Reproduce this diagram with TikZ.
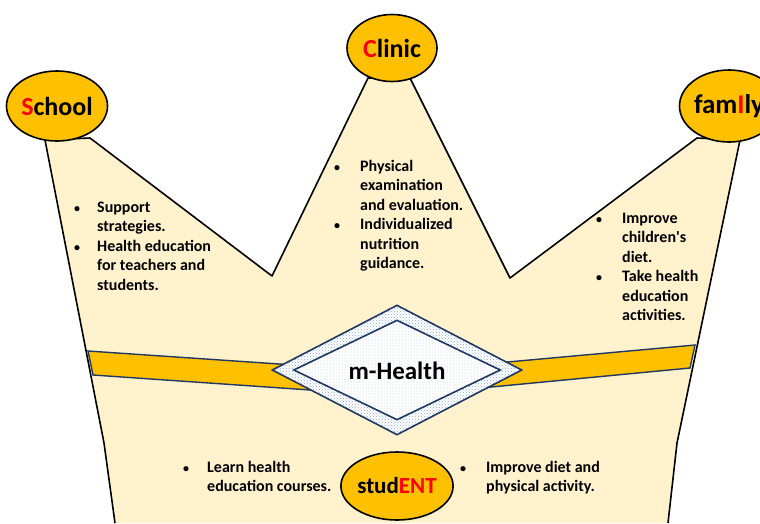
\documentclass[tikz,border=0pt]{standalone}
\usepackage{fontspec}
\setmainfont{Carlito}
\usetikzlibrary{shapes.geometric,patterns}

\definecolor{crownfill}{HTML}{FFF2CC}
\definecolor{gold}{HTML}{FFC000}
\definecolor{navy}{HTML}{1F3864}
\definecolor{dotblue}{HTML}{8FAADC}

\newcommand{\redl}[1]{\textcolor{red}{#1}}
\newcommand{\bul}{{\fontsize{12}{12}\selectfont\textbullet}}

\begin{document}
\begin{tikzpicture}[x=1pt,y=-1pt,
		jewel/.style={ellipse,draw=black,line width=1.6pt,fill=gold,minimum width=90pt,minimum height=70pt,inner sep=0pt,font=\fontsize{26}{28}\selectfont\bfseries},
		notes/.style={anchor=base west,inner sep=0pt,font=\fontsize{16}{19.5}\selectfont\bfseries},
		gem/.style={diamond,draw=navy,line width=1.6pt,inner sep=0pt,preaction={fill=white}}]
	\useasboundingbox (0,0) rectangle (760,523);
	% crown body
	\fill[crownfill] (115,523) -- (104,443) -- (45,140) -- (90,138) -- (272,276) -- (368,78) -- (410,78)
		-- (510,278) -- (697,138) -- (740,140) -- (677,443) -- (668,523) -- cycle;
	\draw[line width=1.6pt,line join=round] (115,523) -- (104,443) -- (45,140) -- (90,138) -- (272,276) -- (368,78)
		-- (410,78) -- (510,278) -- (697,138) -- (740,140) -- (677,443) -- (668,523);
	% band
	\draw[navy,line width=1.4pt,fill=gold] (88,351) -- (397,372) -- (695,345) -- (690,368) -- (397,396) -- (93,375) -- cycle;
	% centre gem
	\node[gem,minimum width=250pt,minimum height=130pt,pattern=crosshatch dots,pattern color=dotblue] (gemout) at (397,370) {};
	\node[gem,minimum width=207pt,minimum height=100pt,pattern=dots,pattern color=dotblue!70] (gemin) at (397,370) {};
	\node[font=\fontsize{25}{27}\selectfont\bfseries] (mhealth) at (397,371) {m-Health};
	% the four jewels
	\node[jewel] (school) at (57,106) {\redl{S}chool};
	\node[jewel,minimum height=67pt] (clinic) at (392,48) {\redl{C}linic};
	\node[jewel,minimum width=88pt,minimum height=72pt,font=\fontsize{27}{29}\selectfont\bfseries] (family) at (729,106) {fam\redl{I}ly};
	\node[jewel,minimum height=68pt,font=\fontsize{23}{25}\selectfont\bfseries] (student) at (397,486) {stud\redl{ENT}};
	% bullet notes
	\node[notes] (schoolnotes) at (74,212) {\begin{tabular}[t]{@{}p{23pt}@{}l@{}}
			\bul & Support\\ & strategies.\\
			\bul & Health education\\ & for teachers and\\ & students.
		\end{tabular}};
	\node[notes] (clinicnotes) at (334,171) {\begin{tabular}[t]{@{}p{26pt}@{}l@{}}
			\bul & Physical\\ & examination\\ & and evaluation.\\
			\bul & Individualized\\ & nutrition\\ & guidance.
		\end{tabular}};
	\node[notes] (familynotes) at (596,223) {\begin{tabular}[t]{@{}p{26pt}@{}l@{}}
			\bul & Improve\\ & children\textquotesingle s\\ & diet.\\
			\bul & Take health\\ & education\\ & activities.
		\end{tabular}};
	\node[notes] (learnnotes) at (183,472) {\begin{tabular}[t]{@{}p{24pt}@{}l@{}}
			\bul & Learn health\\ & education courses.
		\end{tabular}};
	\node[notes] (dietnotes) at (460,472) {\begin{tabular}[t]{@{}p{26pt}@{}l@{}}
			\bul & Improve diet and\\ & physical activity.
		\end{tabular}};
\end{tikzpicture}
\end{document}
